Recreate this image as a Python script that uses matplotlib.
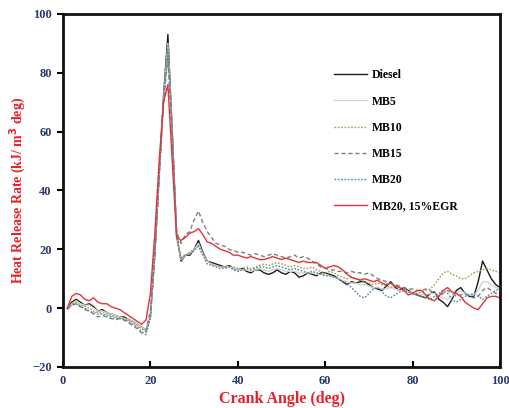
import numpy as np
import matplotlib
matplotlib.use("Agg")
import matplotlib.pyplot as plt

crank_angle = np.arange(1, 101)

diesel = [0, 2, 3, 2, 1, 1.5, 0.5, -1, -0.5, -1.5,
          -2, -2.5, -3, -3, -4, -4.5, -5.5, -6.5, -7.5, -3,
          18, 45, 72, 93, 60, 25, 16, 18, 18, 20,
          23, 19, 16, 15.5, 15, 14.5, 14, 14.5, 13.5, 13,
          13.5, 12.5, 12, 13, 13, 12, 11.5, 12, 13, 12,
          11.5, 12.5, 12, 10.5, 11, 12, 11.5, 11, 12, 12,
          11.5, 11, 10, 9, 8, 9, 8.5, 9, 9, 8,
          7, 6.5, 6, 7.5, 9, 7, 6, 7, 6, 5,
          4.5, 4, 3.5, 5, 5.5, 3, 2, 0.5, 3, 6,
          7, 5, 4, 4, 9, 16, 13, 10, 8, 7]

mb5 = [0, 1.5, 2.5, 1.5, 1, 1, 0, -1, -1, -1.5,
       -2, -2.5, -3, -3.5, -4, -4.5, -5.5, -6.5, -7.5, -3,
       18, 45, 71, 90, 60, 24, 16.5, 18, 18.5, 20,
       22, 18.5, 16, 15, 14.5, 14, 14, 14, 13.5, 13,
       13, 13, 12.5, 13, 13.5, 13, 12.5, 13, 13.5, 13,
       12.5, 12.5, 12.5, 12, 12, 12, 12, 11.5, 11.5, 11.5,
       11, 10.5, 10, 9.5, 9, 8.5, 8.5, 8, 8, 7.5,
       7, 7, 6.5, 6.5, 7, 6.5, 6, 6, 5.5, 5,
       5, 4.5, 4.5, 5, 5, 4, 3.5, 3, 4, 5,
       6, 5, 4.5, 4.5, 6, 9, 9, 8, 7, 6.5]

mb10 = [0, 1.5, 2, 1, 0.5, 0, -1, -1.5, -1.5, -2,
        -2.5, -3, -3.5, -3.5, -4, -5, -6, -7, -8, -3,
        18, 45, 70, 88, 60, 24, 17, 18, 19, 20,
        21.5, 18.5, 16, 15, 14.5, 14, 14, 14.5, 14, 13.5,
        13.5, 14, 13.5, 14, 14.5, 15, 14.5, 15, 15.5, 15,
        14.5, 14, 14.5, 14, 13.5, 13.5, 14, 13, 12.5, 12,
        12.5, 12, 11, 10.5, 10, 10.5, 10, 9.5, 9, 8.5,
        8, 8.5, 8, 7.5, 7, 7.5, 7, 6.5, 6, 5.5,
        5, 5.5, 6, 6.5, 8, 10, 12, 12.5, 11.5, 11,
        10, 10, 11, 12, 12.5, 13, 13.5, 13, 12.5, 12]

mb15 = [-0.5, 1, 1.5, 0.5, -0.5, -1, -2, -3, -2.5, -3,
        -3.5, -4, -3.5, -4, -5, -6, -7, -8.5, -7.5, -1,
        18, 45, 70, 85, 58, 26, 22, 25, 26, 30,
        33, 29, 26, 24, 22, 21.5, 21, 20, 19.5, 19,
        19, 18.5, 18, 18.5, 18, 17.5, 18, 18.5, 18, 17.5,
        17, 17.5, 18, 17, 17.5, 17, 16, 15, 14, 13.5,
        13, 13, 12.5, 12.5, 12, 12.5, 12, 12, 11.5, 12,
        11, 10, 9.5, 9, 8.5, 8, 7.5, 7, 6.5, 6.5,
        6, 6, 6.5, 6, 5, 4, 5, 6, 5, 4,
        4.5, 5, 4, 3.5, 4, 6, 7, 6, 5, 5]

mb20 = [0, 1, 1.5, 0.5, 0, -1, -1.5, -2, -2, -2.5,
        -3, -3.5, -3.5, -4, -4.5, -5.5, -6.5, -8, -9, -3,
        18, 45, 70, 89, 60, 24, 17, 18, 18.5, 19.5,
        21, 18, 15, 14.5, 14, 13.5, 13.5, 14, 13, 12.5,
        13, 13.5, 13, 13.5, 14, 14, 13.5, 14, 14.5, 14,
        13.5, 13, 13.5, 13, 12.5, 12, 12.5, 12, 11.5, 11,
        11, 10.5, 10, 9, 8.5, 7, 5.5, 4, 3.5, 5,
        6.5, 7, 5.5, 4, 3.5, 4.5, 5.5, 6, 5.5, 5,
        4.5, 4, 3.5, 3, 4, 5, 6, 5, 3, 2,
        3, 4, 4.5, 5, 4, 3, 4, 5, 6, 6.5]

mb20_egr = [0, 4, 5, 4.5, 3, 2.5, 3.5, 2, 1.5, 1.5,
            0.5, 0, -0.5, -1.5, -2.5, -3.5, -4.5, -5.5, -4, 5,
            25, 50, 70, 76, 50, 24, 23, 24, 25.5, 26,
            27, 25, 22.5, 22, 21, 20, 19.5, 19, 18, 18,
            17.5, 17, 17.5, 17, 16.5, 16.5, 17, 17.5, 17, 16.5,
            17, 16.5, 16, 15.5, 16, 15.5, 15.5, 15.5, 14.5, 13.5,
            14, 14.5, 14, 13, 11.5, 10.5, 10, 9.5, 10, 9.5,
            9, 9.5, 8.5, 8, 8.5, 7.5, 7, 6, 4.5, 5,
            6, 6, 4.5, 3, 2.5, 4, 6, 7, 5.5, 5,
            4, 2, 1, 0, -0.5, 1.5, 3.5, 4, 4, 3.5]

labels = ["Diesel", "MB5", "MB10", "MB15", "MB20", "MB20, 15%EGR"]
x_ticks = [0, 20, 40, 60, 80, 100]
y_ticks = [-20, 0, 20, 40, 60, 80, 100]

series = [diesel, mb5, mb10, mb15, mb20, mb20_egr]
styles = [
    dict(color="#1a1a1a", ls="-", lw=1.0),
    dict(color="#d4d4d4", ls="-", lw=1.0),
    dict(color="#a3a048", ls=(0, (1.2, 1.2)), lw=1.0),
    dict(color="#7f7f7f", ls=(0, (3, 2)), lw=1.0),
    dict(color="#4f86a8", ls=(0, (1.2, 1.2)), lw=1.0),
    dict(color="#e8313a", ls="-", lw=1.0),
]

serif = ["Liberation Serif", "DejaVu Serif"]
tick_color = "#2a3a66"
label_color = "#e8202a"

fig = plt.figure(figsize=(5.10, 4.08), dpi=100)
ax = fig.add_axes([0.1235, 0.1005, 0.857, 0.8655])

for y, lab, st in zip(series, labels, styles):
    ax.plot(crank_angle, y, label=lab, **st)

ax.set_xlim(0, 100)
ax.set_ylim(-20, 100)
ax.set_xticks(x_ticks)
ax.set_yticks(y_ticks)
for spine in ax.spines.values():
    spine.set_linewidth(2.0)
    spine.set_color("#111111")

ax.tick_params(axis="y", direction="out", length=4, width=1.5, pad=4)
ax.tick_params(axis="x", direction="in", length=4, width=1.5, pad=6)
for t in ax.get_xticklabels() + ax.get_yticklabels():
    t.set_fontfamily(serif)
    t.set_fontweight("bold")
    t.set_fontsize(9)
    t.set_color(tick_color)

ax.set_xlabel("Crank Angle (deg)", family=serif, fontweight="bold",
              fontsize=11.5, color=label_color, labelpad=3)
ax.set_ylabel("Heat Release Rate (kJ/ m$^\\mathbf{3}$ deg)", family=serif,
              fontweight="bold", fontsize=10, color=label_color, labelpad=3)

leg = ax.legend(loc="upper left", bbox_to_anchor=(0.595, 0.873), frameon=False,
                prop=dict(family=serif, weight="bold", size=8.5),
                handlelength=2.8, handletextpad=0.45, labelspacing=1.2)

fig.savefig("out.png", dpi=100, facecolor="white")
